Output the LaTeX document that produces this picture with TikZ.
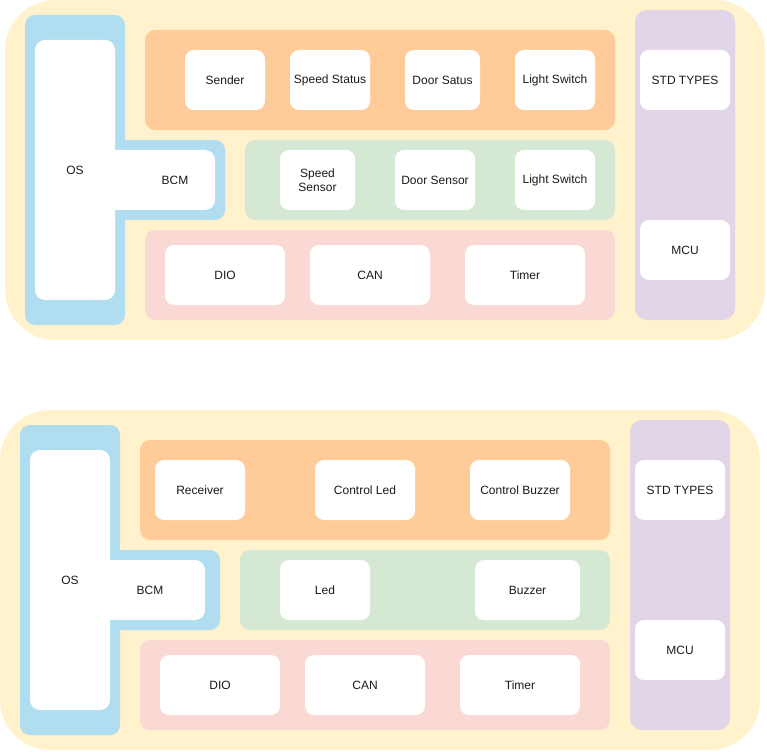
\documentclass[tikz,border=0pt]{standalone}
\usepackage{fontspec}
\setmainfont{Liberation Sans}
\definecolor{cyellow}{HTML}{FFF2CC}
\definecolor{cblue}{HTML}{B1DDF0}
\definecolor{corange}{HTML}{FFCC99}
\definecolor{cgreen}{HTML}{D5E8D4}
\definecolor{cpink}{HTML}{FAD9D5}
\definecolor{cpurple}{HTML}{E1D5E7}
\definecolor{ctext}{HTML}{1A1A1A}
\newcommand\rbox[7]{%
  \node[#6, minimum width={(#4-#2)*1pt}, minimum height={(#5-#3)*1pt}]
    (#1) at ({(#2+#4)/2},{(#3+#5)/2}) {#7};}
\tikzset{
  base/.style={rectangle, inner sep=0pt, outer sep=0pt, align=center, text=ctext,
    font=\fontsize{12}{14}\selectfont},
  outerbox/.style={base, fill=cyellow, rounded corners=50pt},
  bluebox/.style={base, fill=cblue, rounded corners=10pt},
  orangebox/.style={base, fill=corange, rounded corners=10pt},
  greenbox/.style={base, fill=cgreen, rounded corners=10pt},
  pinkbox/.style={base, fill=cpink, rounded corners=10pt},
  purplebox/.style={base, fill=cpurple, rounded corners=12pt},
  wbox/.style={base, fill=white, rounded corners=9pt},
  wbig/.style={base, fill=white, rounded corners=10pt},
  lbl/.style={base}
}
\begin{document}
\begin{tikzpicture}[x=1pt,y=-1pt]
\useasboundingbox (0,0) rectangle (767,751);
% ---------- top diagram ----------
\rbox{outerA}{5}{0}{765}{340}{outerbox}{}
\rbox{osbA}{25}{15}{125}{325}{bluebox}{}
\rbox{bcmbA}{100}{140}{225}{220}{bluebox}{}
\rbox{oswA}{35}{40}{115}{300}{wbig}{OS}
\rbox{bcmwA}{100}{150}{215}{210}{wbig}{}
\node[lbl] (bcmlA) at (175,180) {BCM};
\rbox{orangeA}{145}{30}{615}{130}{orangebox}{}
\rbox{sender}{185}{50}{265}{110}{wbox}{Sender}
\rbox{speedstatus}{290}{50}{370}{110}{wbox}{Speed Status}
\rbox{doorsatus}{405}{50}{480}{110}{wbox}{Door Satus}
\rbox{lightA}{515}{50}{595}{110}{wbox}{Light Switch}
\rbox{greenA}{245}{140}{615}{220}{greenbox}{}
\rbox{speedsensor}{280}{150}{355}{210}{wbox}{Speed\\Sensor}
\rbox{doorsensor}{395}{150}{475}{210}{wbox}{Door Sensor}
\rbox{lightB}{515}{150}{595}{210}{wbox}{Light Switch}
\rbox{pinkA}{145}{230}{615}{320}{pinkbox}{}
\rbox{dioA}{165}{245}{285}{305}{wbox}{DIO}
\rbox{canA}{310}{245}{430}{305}{wbox}{CAN}
\rbox{timerA}{465}{245}{585}{305}{wbox}{Timer}
\rbox{purpleA}{635}{10}{735}{320}{purplebox}{}
\rbox{stdA}{640}{50}{730}{110}{wbox}{STD TYPES}
\rbox{mcuA}{640}{220}{730}{280}{wbox}{MCU}
% ---------- bottom diagram ----------
\rbox{outerB}{0}{410}{760}{750}{outerbox}{}
\rbox{osbB}{20}{425}{120}{735}{bluebox}{}
\rbox{bcmbB}{95}{550}{220}{630}{bluebox}{}
\rbox{oswB}{30}{450}{110}{710}{wbig}{OS}
\rbox{bcmwB}{95}{560}{205}{620}{wbig}{}
\node[lbl] (bcmlB) at (150,590) {BCM};
\rbox{orangeB}{140}{440}{610}{540}{orangebox}{}
\rbox{receiver}{155}{460}{245}{520}{wbox}{Receiver}
\rbox{controlled}{315}{460}{415}{520}{wbox}{Control Led}
\rbox{controlbuzzer}{470}{460}{570}{520}{wbox}{Control Buzzer}
\rbox{greenB}{240}{550}{610}{630}{greenbox}{}
\rbox{led}{280}{560}{370}{620}{wbox}{Led}
\rbox{buzzer}{475}{560}{580}{620}{wbox}{Buzzer}
\rbox{pinkB}{140}{640}{610}{730}{pinkbox}{}
\rbox{dioB}{160}{655}{280}{715}{wbox}{DIO}
\rbox{canB}{305}{655}{425}{715}{wbox}{CAN}
\rbox{timerB}{460}{655}{580}{715}{wbox}{Timer}
\rbox{purpleB}{630}{420}{730}{730}{purplebox}{}
\rbox{stdB}{635}{460}{725}{520}{wbox}{STD TYPES}
\rbox{mcuB}{635}{620}{725}{680}{wbox}{MCU}
\end{tikzpicture}
\end{document}
